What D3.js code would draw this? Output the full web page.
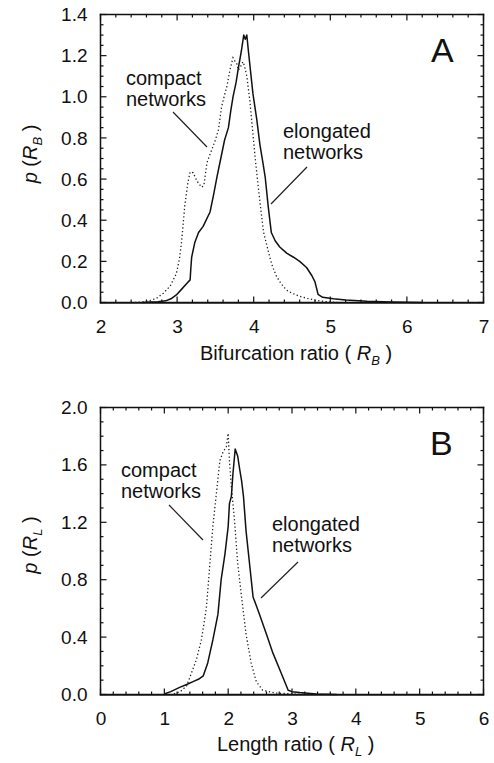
<!DOCTYPE html>
<html>
<head>
<meta charset="utf-8">
<script src="https://cdn.jsdelivr.net/npm/d3@7"></script>
<style>
  html, body { margin: 0; padding: 0; background: #fff; }
  svg { display: block; }
  text { font-family: "Liberation Sans", Arial, Helvetica, sans-serif; fill: #111; }
</style>
</head>
<body>
<svg id="chart" width="494" height="763"></svg>
<script>
// Panel A: bifurcation ratio distributions
const rbCompactX = [2.45, 2.55, 2.65, 2.73, 2.82, 2.91, 2.99, 3.03, 3.06, 3.10, 3.14, 3.17, 3.21, 3.26, 3.32, 3.35, 3.39, 3.45, 3.50, 3.54, 3.58, 3.62, 3.65, 3.69, 3.73, 3.76, 3.78, 3.80, 3.82, 3.86, 3.88, 3.91, 3.95, 3.99, 4.02, 4.06, 4.10, 4.13, 4.17, 4.21, 4.25, 4.30, 4.36, 4.43, 4.50, 4.60, 4.70, 4.82, 4.95, 5.10];
const rbCompactY = [0.0, 0.003, 0.01, 0.02, 0.045, 0.08, 0.14, 0.21, 0.30, 0.47, 0.58, 0.635, 0.63, 0.59, 0.56, 0.57, 0.68, 0.74, 0.79, 0.84, 0.95, 1.01, 1.05, 1.13, 1.19, 1.17, 1.16, 1.13, 1.14, 1.17, 1.15, 1.10, 0.98, 0.82, 0.70, 0.56, 0.43, 0.34, 0.28, 0.22, 0.17, 0.126, 0.09, 0.06, 0.045, 0.03, 0.02, 0.01, 0.004, 0.0];
const rbElongX = [2.55, 2.65, 2.75, 2.85, 2.92, 2.99, 3.06, 3.12, 3.17, 3.18, 3.19, 3.23, 3.28, 3.34, 3.43, 3.48, 3.52, 3.57, 3.62, 3.67, 3.70, 3.73, 3.77, 3.80, 3.84, 3.87, 3.89, 3.91, 3.93, 3.96, 3.99, 4.04, 4.08, 4.12, 4.15, 4.19, 4.23, 4.28, 4.34, 4.43, 4.52, 4.60, 4.69, 4.76, 4.80, 4.84, 4.90, 5.04, 5.20, 5.48, 5.80, 6.20];
const rbElongY = [0.0, 0.002, 0.004, 0.008, 0.018, 0.037, 0.065, 0.09, 0.11, 0.17, 0.22, 0.29, 0.34, 0.37, 0.44, 0.53, 0.61, 0.70, 0.79, 0.85, 0.93, 1.0, 1.07, 1.14, 1.225, 1.30, 1.28, 1.30, 1.225, 1.12, 1.015, 0.89, 0.77, 0.68, 0.61, 0.465, 0.34, 0.30, 0.27, 0.24, 0.22, 0.20, 0.17, 0.13, 0.10, 0.04, 0.025, 0.018, 0.012, 0.006, 0.002, 0.0];
const rbTicksX = [2, 3, 4, 5, 6, 7];
const rbTicksY = [0.0, 0.2, 0.4, 0.6, 0.8, 1.0, 1.2, 1.4];

// Panel B: length ratio distributions
const rlCompactX = [1.15, 1.25, 1.35, 1.40, 1.45, 1.50, 1.58, 1.62, 1.66, 1.71, 1.76, 1.82, 1.87, 1.92, 1.97, 2.00, 2.02, 2.05, 2.10, 2.15, 2.21, 2.28, 2.36, 2.44, 2.54, 2.75, 3.10, 3.50];
const rlCompactY = [0.005, 0.02, 0.06, 0.12, 0.18, 0.24, 0.38, 0.49, 0.61, 0.89, 1.17, 1.42, 1.63, 1.69, 1.725, 1.82, 1.63, 1.45, 1.21, 0.91, 0.68, 0.42, 0.22, 0.09, 0.03, 0.01, 0.002, 0.0];
const rlElongX = [1.01, 1.10, 1.24, 1.35, 1.45, 1.55, 1.61, 1.68, 1.72, 1.76, 1.80, 1.84, 1.89, 1.95, 2.00, 2.02, 2.05, 2.075, 2.11, 2.15, 2.18, 2.21, 2.24, 2.28, 2.34, 2.39, 2.44, 2.49, 2.60, 2.70, 2.83, 2.94, 3.00, 3.12, 3.38, 3.70];
const rlElongY = [0.005, 0.02, 0.05, 0.07, 0.09, 0.11, 0.13, 0.22, 0.30, 0.38, 0.47, 0.56, 0.80, 0.98, 1.17, 1.33, 1.38, 1.54, 1.71, 1.66, 1.57, 1.49, 1.38, 1.14, 0.89, 0.68, 0.62, 0.56, 0.42, 0.29, 0.15, 0.03, 0.02, 0.014, 0.004, 0.0];
const rlTicksX = [0, 1, 2, 3, 4, 5, 6];
const rlTicksY = [0.0, 0.4, 0.8, 1.2, 1.6, 2.0];

const svg = d3.select("#chart");
const ink = "#111";

function drawPanel(cfg) {
  const b = cfg.box;
  const g = svg.append("g").attr("transform", `translate(${b.left},${b.top})`);
  const x = d3.scaleLinear().domain(cfg.xDomain).range([0, b.width]);
  const y = d3.scaleLinear().domain(cfg.yDomain).range([b.height, 0]);

  const xMinor = d3.range(cfg.xDomain[0], cfg.xDomain[1] + 1e-9, cfg.xMinorStep)
    .filter(v => !cfg.xTicks.some(t => Math.abs(t - v) < 1e-6));
  const yMinor = d3.range(cfg.yDomain[0], cfg.yDomain[1] + 1e-9, cfg.yMinorStep)
    .filter(v => !cfg.yTicks.some(t => Math.abs(t - v) < 1e-6));

  // frame as four thin filled bars
  const fw = 1.5;
  const frame = g.append("g").attr("fill", ink);
  frame.append("rect").attr("x", -fw / 2).attr("y", -fw / 2).attr("width", b.width + fw).attr("height", fw);
  frame.append("rect").attr("x", -fw / 2).attr("y", b.height - fw / 2).attr("width", b.width + fw).attr("height", fw + 0.5);
  frame.append("rect").attr("x", -fw / 2).attr("y", -fw / 2).attr("width", fw).attr("height", b.height + fw);
  frame.append("rect").attr("x", b.width - fw / 2).attr("y", -fw / 2).attr("width", fw).attr("height", b.height + fw);

  // inward tick marks on all four sides, as thin filled bars placed by the scales
  const tw = 1.2;
  const xt = [...cfg.xTicks.map(v => ({ v, len: 6 })), ...xMinor.map(v => ({ v, len: 3 }))];
  const yt = [...cfg.yTicks.map(v => ({ v, len: 6 })), ...yMinor.map(v => ({ v, len: 3 }))];
  const tg = g.append("g").attr("fill", ink);
  tg.selectAll("rect.tb").data(xt).join("rect").attr("class", "tb")
    .attr("x", d => x(d.v) - tw / 2).attr("width", tw)
    .attr("y", d => b.height - d.len).attr("height", d => d.len);
  tg.selectAll("rect.tt").data(xt).join("rect").attr("class", "tt")
    .attr("x", d => x(d.v) - tw / 2).attr("width", tw)
    .attr("y", 0).attr("height", d => d.len);
  tg.selectAll("rect.tl").data(yt).join("rect").attr("class", "tl")
    .attr("y", d => y(d.v) - tw / 2).attr("height", tw)
    .attr("x", 0).attr("width", d => d.len);
  tg.selectAll("rect.tr").data(yt).join("rect").attr("class", "tr")
    .attr("y", d => y(d.v) - tw / 2).attr("height", tw)
    .attr("x", d => b.width - d.len).attr("width", d => d.len);

  // tick labels through the library's axes
  const xAxis = g.append("g").attr("transform", `translate(0,${b.height})`)
    .call(d3.axisBottom(x).tickValues(cfg.xTicks).tickSize(0).tickPadding(17).tickFormat(d3.format("d")));
  const yAxis = g.append("g")
    .call(d3.axisLeft(y).tickValues(cfg.yTicks).tickSize(0).tickPadding(13).tickFormat(d3.format(".1f")));
  [xAxis, yAxis].forEach(a => {
    a.select(".domain").remove();
    a.selectAll("text").style("font-size", "19px").attr("fill", ink);
  });

  const line = d3.line().x(d => x(d[0])).y(d => y(d[1]));

  // compact networks: dotted
  g.append("path")
    .datum(d3.zip(cfg.compactX, cfg.compactY))
    .attr("d", line)
    .attr("fill", "none").attr("stroke", "#222").attr("stroke-width", 1.3)
    .attr("stroke-dasharray", "1.3,2.4");
  // elongated networks: solid
  g.append("path")
    .datum(d3.zip(cfg.elongX, cfg.elongY))
    .attr("d", line)
    .attr("fill", "none").attr("stroke", ink).attr("stroke-width", 1.5)
    .attr("stroke-linejoin", "round");

  // panel letter
  svg.append("text").attr("x", cfg.letterPos[0]).attr("y", cfg.letterPos[1])
    .style("font-size", "34px").text(cfg.letter);

  // annotations with leader lines
  cfg.notes.forEach(n => {
    const t = svg.append("text").attr("x", n.x).attr("y", n.y).style("font-size", "20px");
    t.append("tspan").attr("x", n.x).text(n.lines[0]);
    t.append("tspan").attr("x", n.x).attr("dy", 21).text(n.lines[1]);
    svg.append("line")
      .attr("x1", n.lead[0]).attr("y1", n.lead[1])
      .attr("x2", n.lead[2]).attr("y2", n.lead[3])
      .attr("stroke", "#222").attr("stroke-width", 1.2);
  });

  // x-axis title
  const xtl = svg.append("text").attr("x", cfg.xTitlePos[0]).attr("y", cfg.xTitlePos[1]).style("font-size", "20px");
  xtl.append("tspan").text(cfg.xTitle + " ( ");
  xtl.append("tspan").style("font-style", "italic").text("R");
  xtl.append("tspan").style("font-style", "italic").style("font-size", "13px").attr("dy", 5).text(cfg.sub);
  xtl.append("tspan").attr("dy", -5).text(" )");

  // y-axis title
  const ytl = svg.append("text")
    .attr("transform", `translate(${cfg.yTitlePos[0]},${cfg.yTitlePos[1]}) rotate(-90)`)
    .attr("text-anchor", "middle").style("font-size", "20px");
  ytl.append("tspan").style("font-style", "italic").text("p");
  ytl.append("tspan").text(" (");
  ytl.append("tspan").style("font-style", "italic").text("R");
  ytl.append("tspan").style("font-style", "italic").style("font-size", "13px").attr("dy", 5).text(cfg.sub);
  ytl.append("tspan").attr("dy", -5).text(" )");
}

drawPanel({
  box: { left: 100.5, top: 14.5, width: 383, height: 288 },
  xDomain: [2, 7], yDomain: [0, 1.4],
  xTicks: rbTicksX, yTicks: rbTicksY, xMinorStep: 0.2, yMinorStep: 0.05,
  compactX: rbCompactX, compactY: rbCompactY, elongX: rbElongX, elongY: rbElongY,
  letter: "A", letterPos: [431, 62],
  notes: [
    { x: 126, y: 85, lines: ["compact", "networks"], lead: [173, 112, 207, 147] },
    { x: 283, y: 138, lines: ["elongated", "networks"], lead: [307, 167, 271, 204] }
  ],
  xTitle: "Bifurcation ratio", sub: "B", xTitlePos: [200, 360], yTitlePos: [37, 154]
});

drawPanel({
  box: { left: 100.5, top: 407.5, width: 383, height: 287 },
  xDomain: [0, 6], yDomain: [0, 2.0],
  xTicks: rlTicksX, yTicks: rlTicksY, xMinorStep: 0.2, yMinorStep: 0.1,
  compactX: rlCompactX, compactY: rlCompactY, elongX: rlElongX, elongY: rlElongY,
  letter: "B", letterPos: [430, 455],
  notes: [
    { x: 121, y: 477, lines: ["compact", "networks"], lead: [169, 505, 203, 540] },
    { x: 272, y: 531, lines: ["elongated", "networks"], lead: [298, 562, 261, 598] }
  ],
  xTitle: "Length ratio", sub: "L", xTitlePos: [217, 751], yTitlePos: [37, 545]
});
</script>
</body>
</html>
